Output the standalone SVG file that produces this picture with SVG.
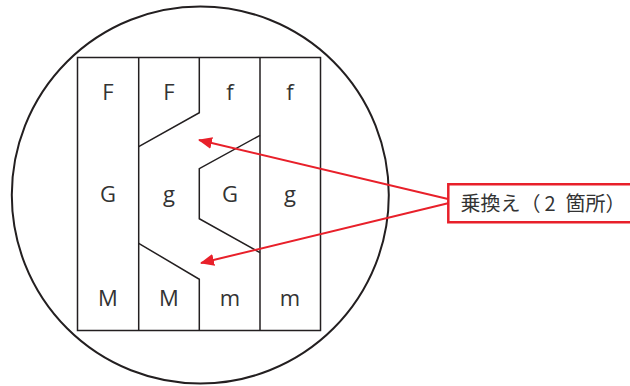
<svg xmlns="http://www.w3.org/2000/svg" width="630" height="386" viewBox="0 0 630 386">
<style>
.ln{fill:none;stroke:#231f20;stroke-width:1.5;stroke-linejoin:miter}
.lt{font-family:"Open Sans","Noto Sans",sans-serif;font-size:22px;fill:#333;text-anchor:middle}
.red{fill:none;stroke:#e8202a;stroke-width:2}
</style>
<defs>
<marker id="ah" markerWidth="14" markerHeight="12" refX="13" refY="6" orient="auto" markerUnits="userSpaceOnUse">
<path d="M0,0 L14,6 L0,12 Z" fill="#e8202a"/>
</marker>
</defs>
<g id="circle"><circle cx="200.3" cy="195" r="188.5" fill="#fff" stroke="#231f20" stroke-width="2"/></g>
<g id="chromosomes">
<rect class="ln" x="77.5" y="57.5" width="243" height="273"/>
<line class="ln" x1="138.7" y1="57.5" x2="138.7" y2="330.5"/>
<line class="ln" x1="260" y1="57.5" x2="260" y2="330.5"/>
<polyline class="ln" points="199.3,57.5 199.3,112.7 138.7,146.7"/>
<polyline class="ln" points="260,135.3 199.3,168.7 199.3,218.7 260,252.7"/>
<polyline class="ln" points="138.7,243.3 199.3,279.3 199.3,330.5"/>
</g>
<g id="letters">
<text class="lt" x="108" y="100">F</text>
<text class="lt" x="169" y="100">F</text>
<text class="lt" x="230" y="100">f</text>
<text class="lt" x="290" y="100">f</text>
<text class="lt" x="108" y="201.5">G</text>
<text class="lt" x="169" y="201.5">g</text>
<text class="lt" x="230" y="201.5">G</text>
<text class="lt" x="290" y="201.5">g</text>
<text class="lt" x="108" y="306">M</text>
<text class="lt" x="169" y="306">M</text>
<text class="lt" x="230" y="306">m</text>
<text class="lt" x="290" y="306">m</text>
</g>
<g id="connectors">
<line class="red" x1="448" y1="199" x2="199" y2="140" marker-end="url(#ah)"/>
<line class="red" x1="448" y1="203.3" x2="201" y2="263" marker-end="url(#ah)"/>
</g>
<g id="label">
<path d="M632,184.3 H448.3 V222.3 H632" fill="#fff" stroke="#e8202a" stroke-width="2.5"/>
<text x="460.5" y="211" font-family="'Noto Sans CJK JP','Noto Sans',sans-serif" font-size="20" fill="#333">乗換え（<tspan x="544.5">2 </tspan><tspan x="565.5">箇所）</tspan></text>
</g>
</svg>
